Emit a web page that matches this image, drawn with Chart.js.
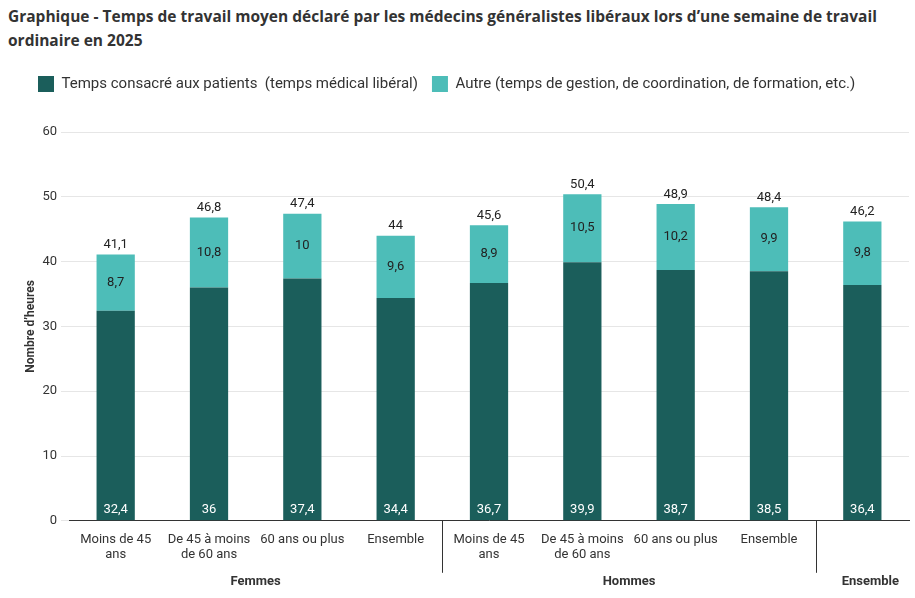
<!DOCTYPE html>
<html>
<head>
<meta charset="utf-8">
<script src="https://cdn.jsdelivr.net/npm/chart.js@4"></script>
<style>
  body { margin: 0; background: #fff; font-family: Roboto, sans-serif; }
  h1 { font-family: 'Open Sans', sans-serif; font-size: 15.5px; font-weight: 700; color: #333; margin: 4px 8px 0 8px; line-height: 24px; }
  #wrap { position: relative; width: 915px; height: 540px; }
</style>
</head>
<body>
<h1>Graphique - Temps de travail moyen déclaré par les médecins généralistes libéraux lors d’une semaine de travail ordinaire en 2025</h1>
<div id="wrap"><canvas id="chart"></canvas></div>
<script>
// Data
const categories = [
    ['Moins de 45', 'ans'], ['De 45 à moins', 'de 60 ans'], '60 ans ou plus', 'Ensemble',
    ['Moins de 45', 'ans'], ['De 45 à moins', 'de 60 ans'], '60 ans ou plus', 'Ensemble', ''
];
const groups = ['Femmes', 'Hommes', 'Ensemble'];
const groupSizes = [4, 4, 1];
const patientTime = [32.4, 36, 37.4, 34.4, 36.7, 39.9, 38.7, 38.5, 36.4];
const otherTime = [8.7, 10.8, 10, 9.6, 8.9, 10.5, 10.2, 9.9, 9.8];
const totals = ['41,1', '46,8', '47,4', '44', '45,6', '50,4', '48,9', '48,4', '46,2'];

const fmt = v => String(v).replace('.', ',');

// extra room under the legend
const legendSpace = {
    id: 'legendSpace',
    beforeInit(chart) {
        const fit = chart.legend.fit;
        chart.legend.fit = function () {
            fit.bind(chart.legend)();
            this.height += 30;
        };
    }
};

const labelsPlugin = {
    id: 'labels',
    afterDatasetsDraw(chart) {
        const ctx = chart.ctx;
        const y = chart.scales.y;
        ctx.save();
        ctx.font = "13px Roboto, sans-serif";
        ctx.textAlign = 'center';
        const m0 = chart.getDatasetMeta(0), m1 = chart.getDatasetMeta(1);
        m0.data.forEach((bar, i) => {
            ctx.fillStyle = '#fff';
            ctx.textBaseline = 'bottom';
            ctx.fillText(fmt(patientTime[i]), bar.x, y.getPixelForValue(0) - 5);
            const top = m1.data[i];
            ctx.fillStyle = '#222';
            ctx.textBaseline = 'middle';
            ctx.fillText(fmt(otherTime[i]), top.x, (top.y + top.base) / 2);
            ctx.textBaseline = 'bottom';
            ctx.fillText(totals[i], top.x, top.y - 3);
        });
        // group labels and separators
        const x = chart.scales.x;
        const step = x.getPixelForValue(1) - x.getPixelForValue(0);
        const bottom = chart.chartArea.bottom;
        ctx.font = "bold 13px Roboto, sans-serif";
        ctx.fillStyle = '#333';
        ctx.textBaseline = 'middle';
        let start = 0;
        groups.forEach((g, gi) => {
            const end = start + groupSizes[gi] - 1;
            const cx = (x.getPixelForValue(start) + x.getPixelForValue(end)) / 2;
            ctx.fillText(g, gi === 2 ? cx + 8 : cx, bottom + 61);
            if (gi < groups.length - 1) {
                const sx = Math.round(x.getPixelForValue(end) + step / 2) + 0.5;
                ctx.strokeStyle = '#333';
                ctx.lineWidth = 1;
                ctx.beginPath();
                ctx.moveTo(sx, bottom);
                ctx.lineTo(sx, bottom + 52);
                ctx.stroke();
            }
            start = end + 1;
        });
        ctx.restore();
    }
};

new Chart(document.getElementById('chart'), {
    type: 'bar',
    data: {
        labels: categories,
        datasets: [{
            label: 'Temps consacré aux patients  (temps médical libéral)',
            data: patientTime,
            backgroundColor: '#1b5e5b'
        }, {
            label: 'Autre (temps de gestion, de coordination, de formation, etc.)',
            data: otherTime,
            backgroundColor: '#4dbdb8'
        }]
    },
    options: {
        responsive: true,
        maintainAspectRatio: false,
        animation: false,
        datasets: { bar: { categoryPercentage: 1, barPercentage: 0.41 } },
        layout: { padding: { left: 24, right: 6, bottom: 26, top: 10 } },
        scales: {
            x: {
                stacked: true,
                grid: { display: false },
                border: { color: '#333' },
                ticks: { color: '#333', font: { size: 13, family: 'Roboto' }, maxRotation: 0, autoSkip: false }
            },
            y: {
                stacked: true,
                min: 0, max: 60,
                ticks: { stepSize: 10, color: '#333', font: { size: 13, family: 'Roboto' }, padding: 4 },
                grid: { color: '#e6e6e6' },
                border: { display: false },
                title: { display: true, text: 'Nombre d’heures', color: '#333', padding: 0, font: { size: 12, weight: 'bold', family: 'Roboto' } }
            }
        },
        plugins: {
            legend: {
                align: 'start',
                labels: { color: '#333', font: { size: 15, family: 'Roboto' }, boxWidth: 16, boxHeight: 16, padding: 14 }
            },
            tooltip: { enabled: false }
        }
    },
    plugins: [legendSpace, labelsPlugin]
});
</script>
</body>
</html>
